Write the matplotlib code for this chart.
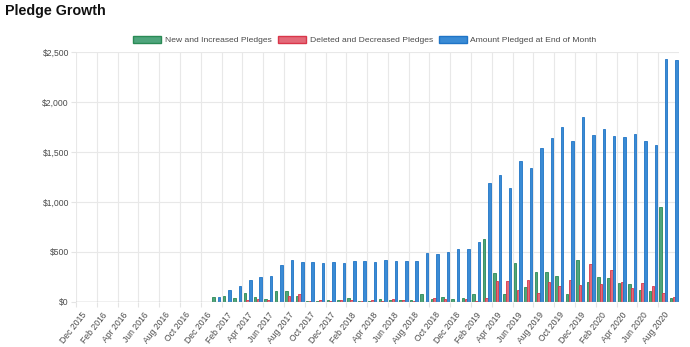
import matplotlib
matplotlib.use("Agg")
import matplotlib.pyplot as plt
from matplotlib.patches import Patch
import numpy as np

months = ["Dec 2015", "Jan 2016", "Feb 2016", "Mar 2016", "Apr 2016", "May 2016", "Jun 2016",
          "Jul 2016", "Aug 2016", "Sep 2016", "Oct 2016", "Nov 2016", "Dec 2016",
          "Jan 2017", "Feb 2017", "Mar 2017", "Apr 2017", "May 2017", "Jun 2017",
          "Jul 2017", "Aug 2017", "Sep 2017", "Oct 2017", "Nov 2017", "Dec 2017",
          "Jan 2018", "Feb 2018", "Mar 2018", "Apr 2018", "May 2018", "Jun 2018",
          "Jul 2018", "Aug 2018", "Sep 2018", "Oct 2018", "Nov 2018", "Dec 2018",
          "Jan 2019", "Feb 2019", "Mar 2019", "Apr 2019", "May 2019", "Jun 2019",
          "Jul 2019", "Aug 2019", "Sep 2019", "Oct 2019", "Nov 2019", "Dec 2019",
          "Jan 2020", "Feb 2020", "Mar 2020", "Apr 2020", "May 2020", "Jun 2020",
          "Jul 2020", "Aug 2020", "Sep 2020"]

new_increased = [0] * 13 + [
    53, 62, 37, 87, 50, 33, 113, 110, 58, 8, 7, 18,
    23, 43, 10, 10, 35, 17, 20, 17, 80, 30, 47, 30,
    37, 80, 630, 287, 80, 395, 148, 303, 298, 265, 85, 417,
    200, 247, 240, 190, 180, 120, 110, 950, 45]

deleted_decreased = [0] * 13 + [
    0, 0, 0, 20, 30, 17, 0, 60, 80, 10, 17, 12,
    23, 22, 15, 18, 10, 30, 20, 13, 5, 40, 28, 0,
    32, 10, 40, 207, 208, 118, 225, 93, 198, 158, 222, 175,
    383, 183, 317, 200, 143, 190, 157, 87, 55]

pledged_end = [0] * 13 + [
    55, 120, 160, 225, 247, 263, 375, 423, 405, 400, 392, 397,
    394, 410, 408, 400, 424, 408, 407, 408, 487, 478, 498, 527,
    530, 602, 1188, 1268, 1138, 1413, 1337, 1543, 1643, 1752, 1613, 1855,
    1670, 1732, 1658, 1647, 1683, 1613, 1568, 2430, 2420]

series_names = ["New and Increased Pledges", "Deleted and Decreased Pledges",
                "Amount Pledged at End of Month"]
y_ticks = [0, 500, 1000, 1500, 2000, 2500]
y_labels = ["$0", "$500", "$1,000", "$1,500", "$2,000", "$2,500"]

fills = ["#4fa57c", "#e36a79", "#3a8bd5"]
edges = ["#2a8a55", "#d9364a", "#1f74c6"]

plt.rcParams['font.family'] = ['Liberation Sans', 'DejaVu Sans']

fig = plt.figure(figsize=(6.9, 3.47), dpi=100)
ax = fig.add_axes([76 / 690, 1 - 302 / 347, (679 - 76) / 690, (302 - 52) / 347])

x = np.arange(len(months))
bw = 0.8 / 3 * 0.9
offsets = [-0.8 / 3, 0, 0.8 / 3]
for vals, off, fc, ec in zip([new_increased, deleted_decreased, pledged_end], offsets, fills, edges):
    ax.bar(x + off, vals, width=bw, color=fc, edgecolor=ec, linewidth=0.6, zorder=3)

ax.set_xlim(-0.5, len(months) - 0.5)
ax.set_ylim(0, 2500)

ax.set_yticks(y_ticks)
ax.set_yticklabels(y_labels)
major = x[::2]
ax.set_xticks(major)
ax.set_xticklabels([months[i] for i in major], rotation=52, ha='right',
                   rotation_mode='anchor')
ax.set_xticks(major - 0.5, minor=True)

ax.tick_params(axis='x', which='major', length=0, pad=6, labelsize=6.2, labelcolor='#4a4a4a')
ax.tick_params(axis='x', which='minor', length=3.6, width=0.8, color='#e4e4e4')
ax.tick_params(axis='y', which='major', length=3.6, width=0.8, color='#e4e4e4',
               pad=1.5, labelsize=6.2, labelcolor='#4a4a4a')

ax.grid(True, axis='y', which='major', color='#e8e8e8', linewidth=0.8, zorder=0)
ax.grid(True, axis='x', which='minor', color='#e8e8e8', linewidth=0.8, zorder=0)
ax.grid(False, axis='x', which='major')
for s in ax.spines.values():
    s.set_visible(False)
ax.axhline(0, color='#9a9a9a', linewidth=0.9, zorder=4)

fig.text(5 / 690, 1 - 11 / 347, "Pledge Growth", fontsize=10.3, fontweight='bold',
         va='center', ha='left', color='#111111')

handles = [Patch(facecolor=fc, edgecolor=ec, linewidth=1.0, label=n)
           for fc, ec, n in zip(fills, edges, series_names)]
leg = fig.legend(handles=handles, loc='center', bbox_to_anchor=(365 / 690, 1 - 40 / 347),
                 ncol=3, frameon=False, fontsize=6.1, handlelength=3.3, handleheight=1.0,
                 handletextpad=0.45, columnspacing=0.7, borderpad=0)
for t in leg.get_texts():
    t.set_color('#4a4a4a')

fig.savefig("out.png", dpi=100)
